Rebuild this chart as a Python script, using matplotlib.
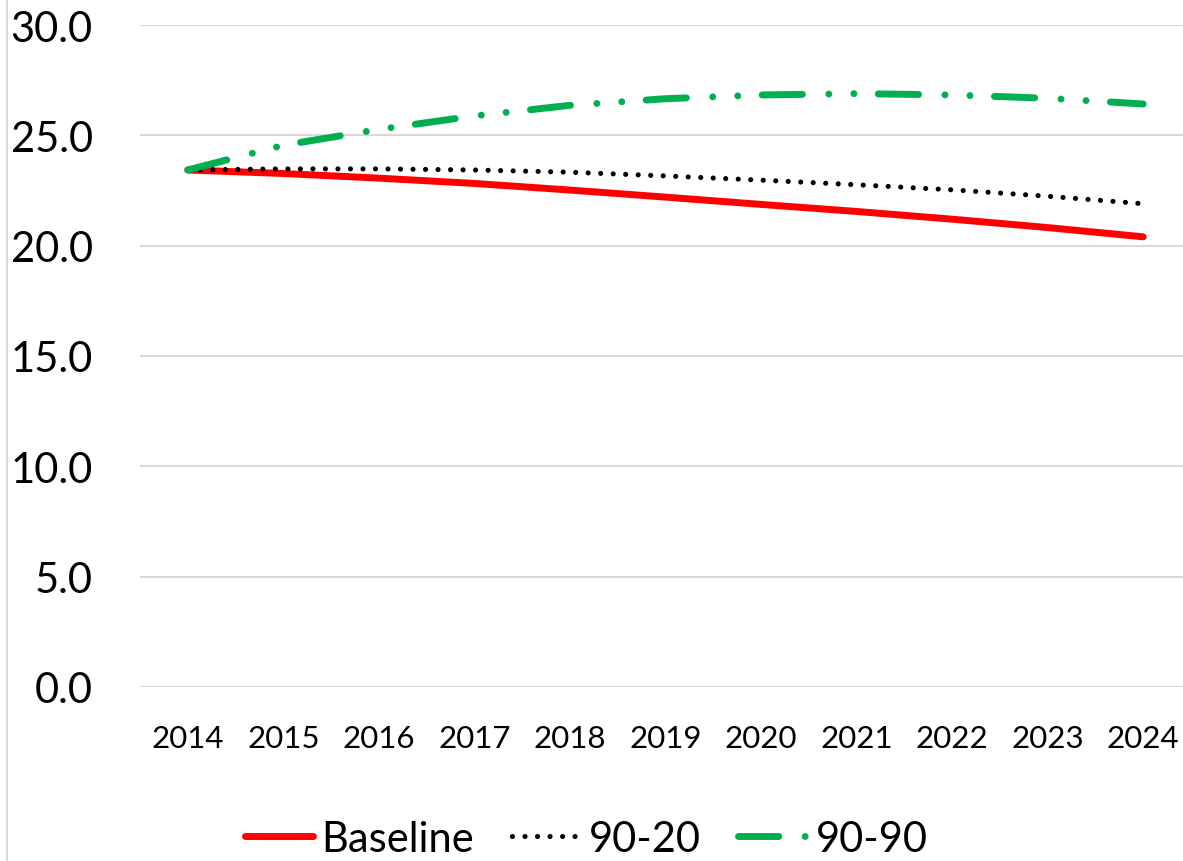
import matplotlib
matplotlib.use("Agg")
import matplotlib.pyplot as plt
from matplotlib.lines import Line2D

plt.rcParams['font.family'] = ['Lato', 'DejaVu Sans']
plt.rcParams['lines.scale_dashes'] = False

years = ['2014', '2015', '2016', '2017', '2018', '2019', '2020', '2021', '2022', '2023', '2024']
baseline = [23.43, 23.27, 23.06, 22.82, 22.52, 22.20, 21.87, 21.55, 21.20, 20.82, 20.40]
s90_20 = [23.43, 23.48, 23.48, 23.43, 23.33, 23.16, 22.97, 22.76, 22.53, 22.24, 21.90]
s90_90 = [23.43, 24.55, 25.27, 25.88, 26.36, 26.66, 26.83, 26.89, 26.83, 26.68, 26.42]

fig = plt.figure(figsize=(11.83, 8.62), dpi=100)
ax = fig.add_axes([140 / 1183, 1 - 688 / 862, 1051 / 1183, 662 / 862])

x = range(len(years))
ax.plot(x, baseline, color='#ff0000', lw=5, solid_capstyle='round',
        solid_joinstyle='round', label='Baseline')
ax.plot(x, s90_20, color='black', lw=3.7, dashes=(0.01, 9), dash_capstyle='round',
        label='90-20')
ax.plot(x, s90_90, color='#00b050', lw=5, dashes=(29, 19, 0.01, 18, 0.01, 17.6),
        dash_capstyle='round', dash_joinstyle='round', label='90-90')

ax.set_xlim(-0.5, 10.5)
ax.set_ylim(0, 30)
yt = [0, 5, 10, 15, 20, 25, 30]
ax.set_yticks(yt)
ax.set_yticklabels(['%.1f' % v for v in yt])
ax.set_xticks(list(x))
ax.set_xticklabels(years)
ax.tick_params(axis='y', length=0, pad=34, labelsize=30)
ax.tick_params(axis='x', length=0, pad=27, labelsize=22.5)
ax.grid(axis='y', color='#d9d9d9', lw=1.5)
ax.set_axisbelow(True)
for s in ax.spines.values():
    s.set_visible(False)

# thin chart border on the left edge
fig.add_artist(Line2D([7 / 1183, 7 / 1183], [0, 1], transform=fig.transFigure,
                      color='#d9d9d9', lw=1.5))

fig.legend(loc='center', bbox_to_anchor=(586 / 1183, 1 - 840 / 862), ncol=3,
           frameon=False, fontsize=30, handlelength=1.65, handletextpad=0.2,
           columnspacing=0.9, borderaxespad=0)

fig.savefig('out.png', dpi=100)
